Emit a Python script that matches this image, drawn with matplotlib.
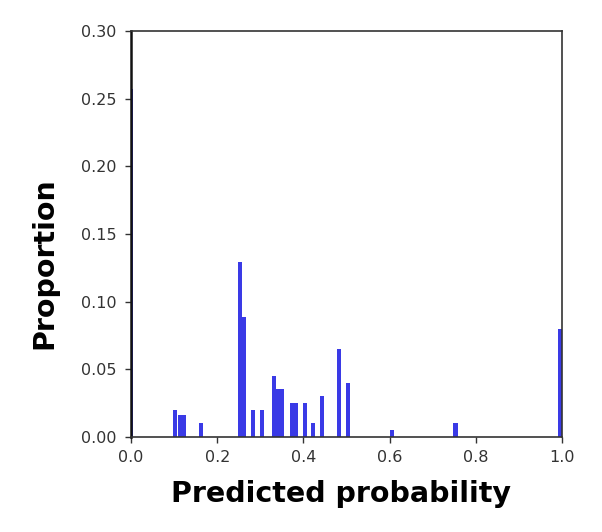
import matplotlib
matplotlib.use("Agg")
import matplotlib.pyplot as plt
import numpy as np

# Histogram bins (centres) of predicted probability and the proportion in each
bin_centres = [0.0, 0.103, 0.113, 0.123, 0.163, 0.253, 0.262, 0.283, 0.303,
               0.332, 0.341, 0.351, 0.373, 0.383, 0.403, 0.423, 0.443,
               0.482, 0.503, 0.605, 0.753, 0.995]
proportions = [0.257, 0.020, 0.016, 0.016, 0.0105, 0.129, 0.089, 0.020, 0.020,
               0.045, 0.0355, 0.0355, 0.025, 0.025, 0.025, 0.0105, 0.030,
               0.065, 0.040, 0.005, 0.0105, 0.080]

x_ticks = [0.0, 0.2, 0.4, 0.6, 0.8, 1.0]
y_ticks = [0.00, 0.05, 0.10, 0.15, 0.20, 0.25, 0.30]

fig = plt.figure(figsize=(6.02, 5.32), dpi=100)
ax = fig.add_axes([131 / 602, 1 - 437 / 532, 431 / 602, 406 / 532])

ax.bar(bin_centres, proportions, width=0.0095, color="#3a3ae6", linewidth=0)

ax.set_xlim(0, 1)
ax.set_ylim(0, 0.30)
ax.set_xticks(x_ticks)
ax.set_yticks(y_ticks)
ax.set_xticklabels(["%.1f" % v for v in x_ticks])
ax.set_yticklabels(["%.2f" % v for v in y_ticks])
ax.tick_params(labelsize=11.5, colors="#333333", length=4, width=1)
ax.tick_params(axis="x", pad=5)
ax.tick_params(axis="y", pad=6.3)

for s in ax.spines.values():
    s.set_color("#333333")
    s.set_linewidth(1.2)
ax.spines["left"].set_color("#111111")
ax.spines["left"].set_linewidth(1.8)

ax.set_xlabel("Predicted probability", fontsize=20.5, fontweight="bold",
              family="DejaVu Sans", color="black")
ax.set_ylabel("Proportion", fontsize=20.5, fontweight="bold",
              family="DejaVu Sans", color="black")
# label placement (axes fractions) to sit where the original has them
ax.xaxis.set_label_coords(0.487, -0.106)
ax.yaxis.set_label_coords(-0.169, 0.428)

fig.savefig("out.png", dpi=100)
